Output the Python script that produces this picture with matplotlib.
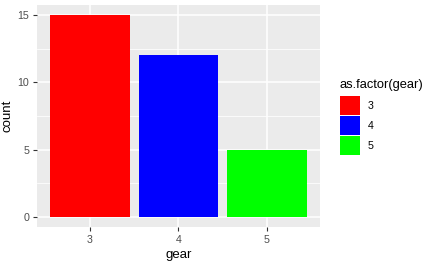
import matplotlib
matplotlib.use("Agg")
import matplotlib.pyplot as plt
from matplotlib.patches import Rectangle

categories = ["3", "4", "5"]
counts = [15, 12, 5]
colors = ["#FF0000", "#0000FF", "#00FF00"]
yticks = [0, 5, 10, 15]
legend_title = "as.factor(gear)"

plt.rcParams["font.family"] = ["Liberation Sans", "DejaVu Sans"]

W, H = 435, 266
fig = plt.figure(figsize=(W / 100, H / 100), dpi=100)
fig.patch.set_facecolor("white")
ax = fig.add_axes([37 / W, 1 - 227 / H, (320 - 37) / W, (227 - 5) / H])
ax.set_facecolor("#EBEBEB")

x = list(range(len(categories)))
ax.bar(x, counts, width=0.9, color=colors, zorder=3)
ax.set_xlim(-0.6, len(categories) - 0.4)
ax.set_ylim(-0.75, 15.75)
ax.set_xticks(x)
ax.set_xticklabels(categories)
ax.set_yticks(yticks)
ax.set_yticks([2.5, 7.5, 12.5], minor=True)
ax.grid(which="major", color="white", linewidth=1.1, zorder=0)
ax.grid(which="minor", axis="y", color="white", linewidth=0.55, zorder=0)
ax.set_axisbelow(True)
for s in ax.spines.values():
    s.set_visible(False)
ax.tick_params(which="major", length=2.75, width=0.8, color="#333333",
               labelcolor="#4D4D4D", labelsize=7.7, pad=3)
ax.tick_params(which="minor", length=0)
ax.set_xlabel("gear", fontsize=9.5, color="black", labelpad=3)
ax.set_ylabel("count", fontsize=9.5, color="black", labelpad=3)

# legend
fig.text(340 / W, 1 - 85 / H, legend_title, fontsize=9.3, color="black",
         ha="left", va="center")
for i, (lab, c) in enumerate(zip(categories, colors)):
    y0 = 96 + i * 20
    fig.patches.append(Rectangle((340 / W, 1 - (y0 + 19) / H), 20 / W, 19 / H,
                                 transform=fig.transFigure, facecolor=c,
                                 edgecolor="none"))
    fig.text(368 / W, 1 - (y0 + 10) / H, lab, fontsize=7.7, color="black",
             ha="left", va="center")

fig.savefig("out.png", dpi=100)
